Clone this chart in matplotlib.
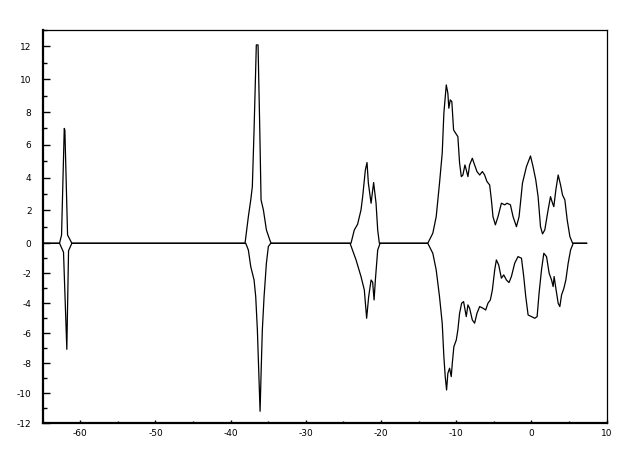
import numpy as np
import matplotlib
matplotlib.use("Agg")
import matplotlib.pyplot as plt
from matplotlib.ticker import MultipleLocator

# upper branch (x, y)
x_upper = [-65.0, -62.76, -62.49, -62.13, -62.05, -61.69, -61.12,
           -38.09, -37.65, -37.33, -37.12, -36.89, -36.59, -36.36, -36.13,
           -35.96, -35.65, -35.25, -34.80, -34.63,
           -24.0, -23.56, -23.12, -22.67, -22.45, -22.09, -21.87, -21.69,
           -21.33, -20.99, -20.67, -20.45, -20.23,
           -13.79, -13.12, -12.67, -12.23, -11.87, -11.65, -11.33, -11.12,
           -10.99, -10.80, -10.59, -10.36, -10.09, -9.79, -9.56, -9.33,
           -9.12, -8.85, -8.67, -8.45, -8.23, -7.87, -7.56, -7.25, -6.89,
           -6.53, -6.23, -5.92, -5.56, -5.33, -5.12, -4.80, -4.45, -4.0,
           -3.56, -3.25, -2.80, -2.45, -2.0, -1.65, -1.2, -0.67, -0.13,
           0.21, 0.57, 0.88, 1.2, 1.47, 1.77, 2.21, 2.53, 2.8, 2.97, 3.24,
           3.55, 3.87, 4.13, 4.44, 4.75, 5.11, 5.47, 7.33]
y_upper = [0, 0, 0.5, 7.0, 6.9, 0.5, 0,
           0, 1.62, 2.64, 3.45, 6.91, 12.09, 12.09, 6.91,
           2.64, 2.03, 0.81, 0.2, 0,
           0, 0.81, 1.16, 2.03, 2.84, 4.47, 4.92, 3.66,
           2.44, 3.7, 2.44, 0.81, 0,
           0, 0.61, 1.62, 3.66, 5.49, 7.93, 9.65, 9.15,
           8.23, 8.74, 8.63, 6.91, 6.71, 6.5, 4.88, 4.06,
           4.16, 4.77, 4.47, 4.06, 4.77, 5.18, 4.77, 4.37, 4.16,
           4.37, 4.16, 3.76, 3.55, 2.64, 1.62, 1.12, 1.62, 2.44,
           2.34, 2.44, 2.34, 1.62, 1.01, 1.62, 3.66, 4.67, 5.32,
           4.67, 3.86, 2.84, 1.01, 0.57, 0.81, 2.03, 2.84, 2.44, 2.23, 3.25,
           4.16, 3.55, 2.94, 2.64, 1.42, 0.4, 0, 0]

# lower branch
x_lower = [-65.0, -62.76, -62.23, -61.79, -61.56, -61.12,
           -38.0, -37.65, -37.33, -36.89, -36.67, -36.45, -36.23, -36.09,
           -35.92, -35.79, -35.56, -35.25, -34.99, -34.67,
           -24.13, -23.33, -22.67, -22.23, -21.92, -21.65, -21.33, -21.12,
           -20.93, -20.76, -20.45, -20.13,
           -13.79, -13.12, -12.67, -12.23, -11.87, -11.65, -11.47, -11.29,
           -11.12, -10.89, -10.67, -10.53, -10.32, -10.0, -9.79, -9.56,
           -9.29, -9.03, -8.67, -8.45, -8.23, -7.87, -7.56, -7.25, -6.89,
           -6.45, -6.09, -5.79, -5.47, -5.2, -4.89, -4.67, -4.36, -4.0,
           -3.69, -3.33, -2.99, -2.67, -2.23, -1.79, -1.33, -1.03, -0.76,
           -0.45, 0.0, 0.44, 0.75, 1.01, 1.33, 1.64, 2.0, 2.35, 2.67, 2.88,
           3.01, 3.24, 3.55, 3.77, 4.0, 4.31, 4.57, 4.88, 5.2, 5.55, 7.33]
y_lower = [0, 0, -0.6, -7.07, -0.5, 0,
           0, -0.45, -1.56, -2.45, -3.56, -5.78, -9.11, -11.2,
           -8.0, -5.78, -3.56, -1.33, -0.22, 0,
           0, -1.11, -2.22, -3.11, -5.0, -3.56, -2.45, -2.6,
           -3.78, -2.45, -0.45, 0,
           0, -0.67, -1.78, -3.56, -5.33, -7.56, -8.89, -9.78,
           -8.67, -8.33, -8.89, -8.0, -6.89, -6.45, -5.78, -4.67,
           -4.0, -3.89, -4.89, -4.11, -4.33, -5.11, -5.33, -4.67, -4.22,
           -4.33, -4.45, -4.0, -3.78, -3.11, -1.78, -1.11, -1.45, -2.33,
           -2.11, -2.45, -2.62, -2.22, -1.33, -0.89, -1.0, -2.22, -3.56,
           -4.78, -4.89, -5.0, -4.89, -3.33, -1.78, -0.67, -0.89, -2.0, -2.45, -2.89,
           -2.22, -3.0, -4.0, -4.22, -3.45, -3.0, -2.45, -1.33, -0.45, 0, 0]

# the positive half of the y axis is drawn a bit taller than the negative half
K_UP = 16.4 / 15.0


def fwd(y):
    y = np.asarray(y, dtype=float)
    return np.where(y > 0, y * K_UP, y)


def inv(y):
    y = np.asarray(y, dtype=float)
    return np.where(y > 0, y / K_UP, y)


plt.rcParams.update({
    "font.family": "DejaVu Sans",
    "axes.unicode_minus": False,
})

fig = plt.figure(figsize=(6.37, 4.67), dpi=100)
ax = fig.add_axes([0.067, 0.0936, 0.8854, 0.8422])

ax.plot(x_upper, y_upper, color="black", lw=0.9)
ax.plot(x_lower, y_lower, color="black", lw=0.9)

ax.set_yscale("function", functions=(fwd, inv))
ax.set_xlim(-65, 10)
ax.set_ylim(-12, 13)

ax.xaxis.set_major_locator(MultipleLocator(10))
ax.xaxis.set_minor_locator(MultipleLocator(5))
ax.yaxis.set_major_locator(MultipleLocator(2))
ax.yaxis.set_minor_locator(MultipleLocator(1))

ax.tick_params(axis="y", which="major", direction="in", length=5, width=1, pad=8, labelsize=6.5)
ax.tick_params(axis="y", which="minor", direction="in", length=3.2, width=1)
ax.tick_params(axis="x", which="major", direction="in", length=2.5, width=1, pad=4, labelsize=6.5)
ax.tick_params(axis="x", which="minor", direction="in", length=1.5, width=1)

ax.spines["left"].set_linewidth(1.6)
ax.spines["bottom"].set_linewidth(1.6)
ax.spines["top"].set_linewidth(0.9)
ax.spines["right"].set_linewidth(0.9)

fig.savefig("out.png", dpi=100, facecolor="white")
